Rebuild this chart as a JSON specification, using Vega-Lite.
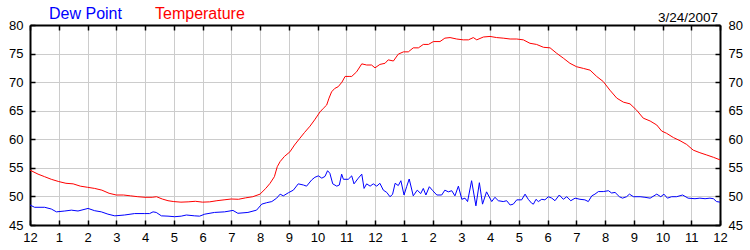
{
  "$schema": "https://vega.github.io/schema/vega-lite/v6.json",
  "width": 690,
  "height": 200,
  "autosize": {"type": "none"},
  "padding": {"left": 30, "top": 25, "right": 30, "bottom": 25},
  "background": "white",
  "config": {
    "view": {"stroke": null},
    "font": "Liberation Sans",
    "axis": {"labelFont": "Liberation Sans", "labelFontSize": 13, "labelColor": "black", "gridColor": "#cccccc", "gridWidth": 1, "domainColor": "black", "domainWidth": 2, "tickColor": "black", "tickWidth": 1.5}
  },
  "title": {"text": "3/24/2007", "anchor": "end", "frame": "group", "orient": "top", "fontSize": 13.5, "fontWeight": "normal", "font": "Liberation Sans", "color": "black", "baseline": "alphabetic", "offset": -24, "dx": -2},
  "datasets": {
    "temp": [
      {"hour": 0, "value": 54.6}, {"hour": 0.28, "value": 53.9}, {"hour": 0.51, "value": 53.45}, {"hour": 0.74, "value": 53.0}, {"hour": 1.0, "value": 52.6},
      {"hour": 1.25, "value": 52.3}, {"hour": 1.5, "value": 52.2}, {"hour": 1.75, "value": 51.8}, {"hour": 2.0, "value": 51.6}, {"hour": 2.25, "value": 51.4},
      {"hour": 2.5, "value": 51.1}, {"hour": 2.75, "value": 50.55}, {"hour": 3.0, "value": 50.25}, {"hour": 3.25, "value": 50.25}, {"hour": 3.5, "value": 50.1},
      {"hour": 3.75, "value": 49.95}, {"hour": 4.0, "value": 49.85}, {"hour": 4.25, "value": 49.85}, {"hour": 4.4, "value": 49.95}, {"hour": 4.6, "value": 49.55},
      {"hour": 4.8, "value": 49.25}, {"hour": 5.0, "value": 49.1}, {"hour": 5.25, "value": 49.0}, {"hour": 5.5, "value": 49.05}, {"hour": 5.75, "value": 49.15},
      {"hour": 6.0, "value": 49.0}, {"hour": 6.25, "value": 49.05}, {"hour": 6.5, "value": 49.25}, {"hour": 6.75, "value": 49.4}, {"hour": 7.0, "value": 49.55},
      {"hour": 7.25, "value": 49.5}, {"hour": 7.5, "value": 49.75}, {"hour": 7.75, "value": 49.95}, {"hour": 8.0, "value": 50.4}, {"hour": 8.2, "value": 51.4},
      {"hour": 8.35, "value": 52.3}, {"hour": 8.5, "value": 53.45}, {"hour": 8.6, "value": 55.2}, {"hour": 8.7, "value": 56.1}, {"hour": 8.85, "value": 57.0},
      {"hour": 9.04, "value": 57.8}, {"hour": 9.2, "value": 59.0}, {"hour": 9.39, "value": 60.2}, {"hour": 9.55, "value": 61.2}, {"hour": 9.74, "value": 62.3},
      {"hour": 9.9, "value": 63.4}, {"hour": 10.09, "value": 64.8}, {"hour": 10.2, "value": 65.4}, {"hour": 10.32, "value": 66.0}, {"hour": 10.4, "value": 67.2},
      {"hour": 10.49, "value": 68.3}, {"hour": 10.6, "value": 68.9}, {"hour": 10.72, "value": 69.2}, {"hour": 10.85, "value": 70.0}, {"hour": 10.96, "value": 71.0},
      {"hour": 11.1, "value": 71.0}, {"hour": 11.19, "value": 71.0}, {"hour": 11.36, "value": 71.8}, {"hour": 11.54, "value": 73.2}, {"hour": 11.71, "value": 73.0},
      {"hour": 11.88, "value": 73.0}, {"hour": 12.0, "value": 72.5}, {"hour": 12.17, "value": 73.1}, {"hour": 12.35, "value": 73.3}, {"hour": 12.46, "value": 73.9},
      {"hour": 12.64, "value": 73.7}, {"hour": 12.81, "value": 74.9}, {"hour": 12.99, "value": 75.3}, {"hour": 13.16, "value": 75.3}, {"hour": 13.33, "value": 76.0},
      {"hour": 13.51, "value": 76.0}, {"hour": 13.68, "value": 76.6}, {"hour": 13.86, "value": 76.6}, {"hour": 14.03, "value": 77.1}, {"hour": 14.26, "value": 77.1},
      {"hour": 14.43, "value": 77.7}, {"hour": 14.61, "value": 77.8}, {"hour": 14.84, "value": 77.55}, {"hour": 15.07, "value": 77.4}, {"hour": 15.25, "value": 77.4},
      {"hour": 15.42, "value": 77.8}, {"hour": 15.54, "value": 77.4}, {"hour": 15.77, "value": 77.9}, {"hour": 16.0, "value": 78.0}, {"hour": 16.23, "value": 77.8},
      {"hour": 16.46, "value": 77.7}, {"hour": 16.7, "value": 77.55}, {"hour": 16.93, "value": 77.55}, {"hour": 17.16, "value": 77.4}, {"hour": 17.39, "value": 76.8},
      {"hour": 17.62, "value": 76.6}, {"hour": 17.86, "value": 76.1}, {"hour": 18.09, "value": 76.0}, {"hour": 18.32, "value": 75.05}, {"hour": 18.55, "value": 74.2},
      {"hour": 18.78, "value": 73.3}, {"hour": 19.01, "value": 72.7}, {"hour": 19.25, "value": 72.4}, {"hour": 19.48, "value": 72.1}, {"hour": 19.71, "value": 71.0},
      {"hour": 19.94, "value": 70.1}, {"hour": 20.17, "value": 68.6}, {"hour": 20.41, "value": 67.2}, {"hour": 20.64, "value": 66.5}, {"hour": 20.87, "value": 66.2},
      {"hour": 21.1, "value": 65.1}, {"hour": 21.33, "value": 63.7}, {"hour": 21.57, "value": 63.2}, {"hour": 21.8, "value": 62.5}, {"hour": 21.97, "value": 61.45},
      {"hour": 22.14, "value": 61.05}, {"hour": 22.38, "value": 60.3}, {"hour": 22.61, "value": 59.75}, {"hour": 22.84, "value": 59.1}, {"hour": 23.07, "value": 58.1},
      {"hour": 23.3, "value": 57.65}, {"hour": 23.54, "value": 57.25}, {"hour": 23.77, "value": 56.85}, {"hour": 24.0, "value": 56.4}
    ],
    "dew": [
      {"hour": 0, "value": 48.5}, {"hour": 0.16, "value": 48.1}, {"hour": 0.51, "value": 48.1}, {"hour": 0.74, "value": 47.8}, {"hour": 0.92, "value": 47.3},
      {"hour": 1.21, "value": 47.45}, {"hour": 1.44, "value": 47.6}, {"hour": 1.67, "value": 47.45}, {"hour": 2.02, "value": 47.9}, {"hour": 2.25, "value": 47.5},
      {"hour": 2.48, "value": 47.3}, {"hour": 2.71, "value": 46.9}, {"hour": 2.95, "value": 46.6}, {"hour": 3.29, "value": 46.75}, {"hour": 3.64, "value": 47.0},
      {"hour": 3.99, "value": 47.0}, {"hour": 4.16, "value": 47.0}, {"hour": 4.28, "value": 47.3}, {"hour": 4.39, "value": 47.2}, {"hour": 4.57, "value": 46.6},
      {"hour": 4.8, "value": 46.55}, {"hour": 5.03, "value": 46.45}, {"hour": 5.26, "value": 46.55}, {"hour": 5.44, "value": 46.75}, {"hour": 5.73, "value": 46.6},
      {"hour": 5.9, "value": 46.55}, {"hour": 6.08, "value": 46.9}, {"hour": 6.42, "value": 47.2}, {"hour": 6.77, "value": 47.3}, {"hour": 7.06, "value": 47.55},
      {"hour": 7.23, "value": 47.05}, {"hour": 7.58, "value": 47.2}, {"hour": 7.88, "value": 47.6}, {"hour": 8.06, "value": 48.65}, {"hour": 8.23, "value": 48.9},
      {"hour": 8.41, "value": 49.1}, {"hour": 8.58, "value": 49.7}, {"hour": 8.7, "value": 50.4}, {"hour": 8.81, "value": 50.1}, {"hour": 8.99, "value": 50.65},
      {"hour": 9.16, "value": 51.1}, {"hour": 9.33, "value": 52.2}, {"hour": 9.51, "value": 52.0}, {"hour": 9.62, "value": 51.8}, {"hour": 9.8, "value": 52.9},
      {"hour": 9.91, "value": 53.35}, {"hour": 10.03, "value": 53.6}, {"hour": 10.15, "value": 53.2}, {"hour": 10.26, "value": 53.5}, {"hour": 10.35, "value": 54.5},
      {"hour": 10.43, "value": 54.05}, {"hour": 10.53, "value": 52.2}, {"hour": 10.67, "value": 51.8}, {"hour": 10.76, "value": 52.0}, {"hour": 10.84, "value": 53.9},
      {"hour": 10.9, "value": 53.0}, {"hour": 11.07, "value": 53.0}, {"hour": 11.19, "value": 53.6}, {"hour": 11.27, "value": 52.2}, {"hour": 11.42, "value": 53.2},
      {"hour": 11.54, "value": 53.9}, {"hour": 11.62, "value": 51.4}, {"hour": 11.71, "value": 52.2}, {"hour": 11.83, "value": 51.8}, {"hour": 11.94, "value": 52.2},
      {"hour": 12.06, "value": 51.8}, {"hour": 12.17, "value": 52.3}, {"hour": 12.29, "value": 51.1}, {"hour": 12.41, "value": 50.7}, {"hour": 12.52, "value": 49.95},
      {"hour": 12.61, "value": 50.35}, {"hour": 12.7, "value": 52.3}, {"hour": 12.81, "value": 51.9}, {"hour": 12.9, "value": 52.75}, {"hour": 13.01, "value": 50.25},
      {"hour": 13.1, "value": 51.7}, {"hour": 13.19, "value": 53.05}, {"hour": 13.33, "value": 50.1}, {"hour": 13.47, "value": 51.1}, {"hour": 13.59, "value": 50.5},
      {"hour": 13.68, "value": 51.4}, {"hour": 13.77, "value": 50.25}, {"hour": 13.89, "value": 51.7}, {"hour": 14.01, "value": 51.0}, {"hour": 14.15, "value": 50.25},
      {"hour": 14.32, "value": 50.25}, {"hour": 14.43, "value": 51.1}, {"hour": 14.55, "value": 50.8}, {"hour": 14.67, "value": 51.0}, {"hour": 14.78, "value": 50.1},
      {"hour": 14.9, "value": 51.8}, {"hour": 15.02, "value": 49.5}, {"hour": 15.13, "value": 49.7}, {"hour": 15.22, "value": 49.1}, {"hour": 15.36, "value": 52.75},
      {"hour": 15.51, "value": 48.35}, {"hour": 15.63, "value": 52.4}, {"hour": 15.74, "value": 48.65}, {"hour": 15.88, "value": 50.8}, {"hour": 16.06, "value": 49.1},
      {"hour": 16.17, "value": 49.85}, {"hour": 16.29, "value": 49.25}, {"hour": 16.46, "value": 49.1}, {"hour": 16.58, "value": 49.25}, {"hour": 16.7, "value": 48.5},
      {"hour": 16.81, "value": 48.65}, {"hour": 16.93, "value": 49.4}, {"hour": 17.1, "value": 49.4}, {"hour": 17.22, "value": 50.4}, {"hour": 17.33, "value": 49.5},
      {"hour": 17.45, "value": 48.8}, {"hour": 17.51, "value": 48.65}, {"hour": 17.6, "value": 49.5}, {"hour": 17.68, "value": 49.1}, {"hour": 17.8, "value": 49.5},
      {"hour": 17.91, "value": 49.4}, {"hour": 18.03, "value": 49.95}, {"hour": 18.15, "value": 49.7}, {"hour": 18.26, "value": 49.25}, {"hour": 18.41, "value": 50.25},
      {"hour": 18.55, "value": 49.5}, {"hour": 18.67, "value": 49.95}, {"hour": 18.81, "value": 49.25}, {"hour": 18.96, "value": 49.7}, {"hour": 19.13, "value": 49.5},
      {"hour": 19.3, "value": 49.4}, {"hour": 19.42, "value": 49.1}, {"hour": 19.54, "value": 50.1}, {"hour": 19.65, "value": 50.4}, {"hour": 19.77, "value": 50.85},
      {"hour": 19.94, "value": 50.85}, {"hour": 20.12, "value": 51.0}, {"hour": 20.23, "value": 50.6}, {"hour": 20.35, "value": 50.7}, {"hour": 20.5, "value": 49.95},
      {"hour": 20.61, "value": 49.7}, {"hour": 20.75, "value": 49.95}, {"hour": 20.85, "value": 50.4}, {"hour": 20.99, "value": 49.95}, {"hour": 21.22, "value": 49.95},
      {"hour": 21.39, "value": 49.85}, {"hour": 21.57, "value": 49.7}, {"hour": 21.8, "value": 50.4}, {"hour": 21.94, "value": 49.95}, {"hour": 22.05, "value": 50.4},
      {"hour": 22.17, "value": 49.7}, {"hour": 22.32, "value": 49.95}, {"hour": 22.49, "value": 49.95}, {"hour": 22.7, "value": 50.25}, {"hour": 22.89, "value": 49.7},
      {"hour": 23.13, "value": 49.6}, {"hour": 23.3, "value": 49.7}, {"hour": 23.48, "value": 49.6}, {"hour": 23.65, "value": 49.7}, {"hour": 23.77, "value": 49.6},
      {"hour": 23.88, "value": 49.1}, {"hour": 24.0, "value": 49.0}
    ]
  },
  "layer": [
    {
      "data": {"name": "temp"},
      "mark": {"type": "line", "strokeWidth": 1, "interpolate": "linear"},
      "encoding": {
        "x": {"field": "hour", "type": "quantitative", "scale": {"domain": [0, 24], "nice": false},
          "axis": {"orient": "bottom", "title": null, "values": [0,1,2,3,4,5,6,7,8,9,10,11,12,13,14,15,16,17,18,19,20,21,22,23,24], "labelExpr": "datum.value % 12 == 0 ? '12' : '' + (datum.value % 12)", "grid": true, "tickSize": -5, "labelPadding": 11, "labelFlush": false, "labelOverlap": false}},
        "y": {"field": "value", "type": "quantitative", "scale": {"domain": [45, 80], "nice": false, "zero": false},
          "axis": {"orient": "left", "title": null, "values": [45,50,55,60,65,70,75,80], "grid": true, "tickSize": -5, "labelPadding": 12, "labelFlush": false, "labelOverlap": false}},
        "color": {"datum": "Temperature", "type": "nominal", "scale": {"domain": ["Dew Point", "Temperature"], "range": ["#0000ff", "#ff0000"]},
          "legend": {"orient": "none", "legendX": 3, "legendY": -14, "direction": "horizontal", "title": null, "symbolSize": 0, "symbolOpacity": 0, "symbolStrokeWidth": 0, "labelOffset": 0, "columnPadding": 17, "labelFontSize": 16, "labelFont": "Liberation Sans", "labelBaseline": "alphabetic",
            "encode": {"labels": {"update": {"fill": {"signal": "datum.value == 'Dew Point' ? '#0000ff' : '#ff0000'"}}}}}}
      }
    },
    {
      "data": {"name": "dew"},
      "mark": {"type": "line", "strokeWidth": 1, "interpolate": "linear"},
      "encoding": {
        "x": {"field": "hour", "type": "quantitative",
          "axis": {"orient": "top", "title": null, "values": [0,1,2,3,4,5,6,7,8,9,10,11,12,13,14,15,16,17,18,19,20,21,22,23,24], "labels": false, "grid": false, "tickSize": -5}},
        "y": {"field": "value", "type": "quantitative",
          "axis": {"orient": "right", "title": null, "values": [45,50,55,60,65,70,75,80], "grid": false, "tickSize": -5, "labelPadding": 13, "labelFlush": false, "labelOverlap": false}},
        "color": {"datum": "Dew Point", "type": "nominal"}
      }
    }
  ],
  "resolve": {"axis": {"x": "independent", "y": "independent"}}
}
